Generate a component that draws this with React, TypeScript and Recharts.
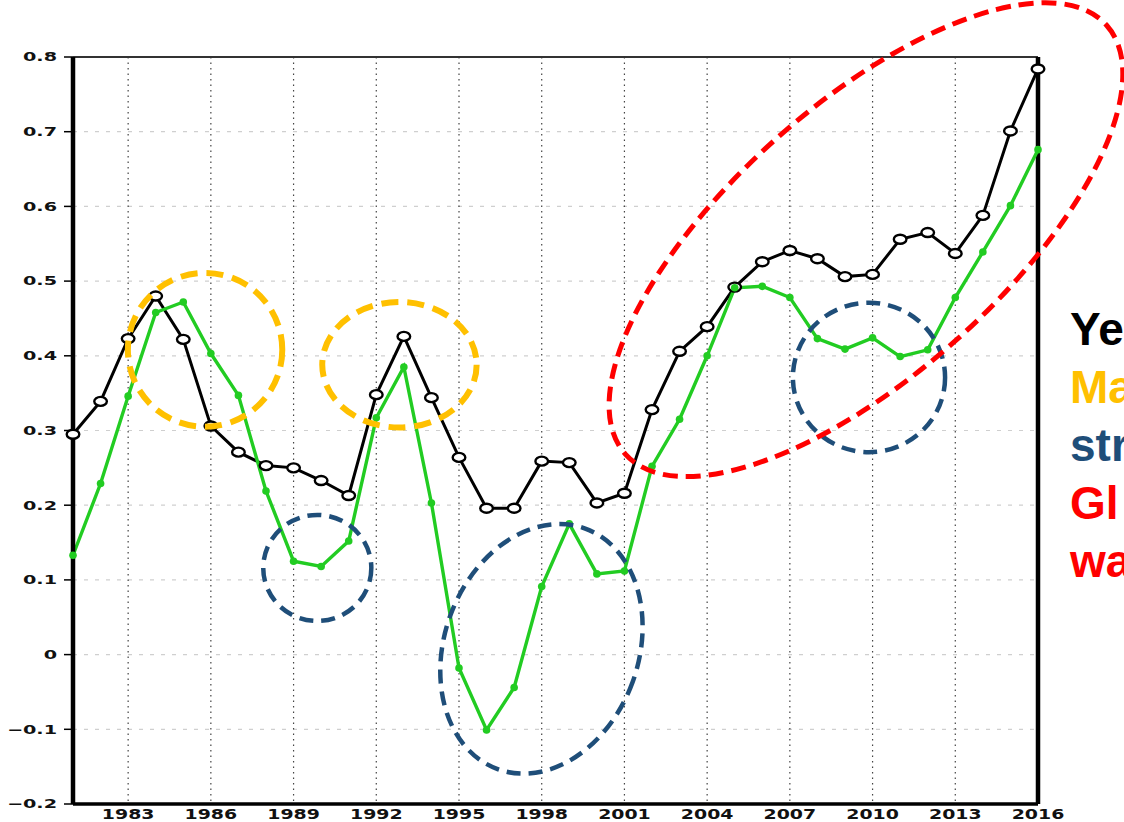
import React from "react";
import {
  LineChart,
  Line,
  XAxis,
  YAxis,
  CartesianGrid,
  ReferenceLine,
  ReferenceArea,
} from "recharts";

// ---------- data ----------
const years = [
  1981, 1982, 1983, 1984, 1985, 1986, 1987, 1988, 1989, 1990, 1991, 1992,
  1993, 1994, 1995, 1996, 1997, 1998, 1999, 2000, 2001, 2002, 2003, 2004,
  2005, 2006, 2007, 2008, 2009, 2010, 2011, 2012, 2013, 2014, 2015, 2016,
];

const blackSeries = [
  0.295, 0.339, 0.423, 0.48, 0.422, 0.306, 0.271, 0.253, 0.25, 0.233, 0.213,
  0.348, 0.426, 0.344, 0.264, 0.196, 0.196, 0.259, 0.257, 0.203, 0.216, 0.328,
  0.406, 0.439, 0.492, 0.526, 0.541, 0.53, 0.506, 0.509, 0.556, 0.565, 0.537,
  0.588, 0.701, 0.784,
];

const greenSeries = [
  0.133, 0.229, 0.346, 0.458, 0.472, 0.403, 0.347, 0.219, 0.125, 0.118, 0.152,
  0.317, 0.385, 0.203, -0.018, -0.101, -0.044, 0.091, 0.175, 0.108, 0.112,
  0.252, 0.315, 0.4, 0.491, 0.493, 0.478, 0.423, 0.409, 0.424, 0.399, 0.408,
  0.478, 0.539, 0.601, 0.676,
];

const xTicks = [1983, 1986, 1989, 1992, 1995, 1998, 2001, 2004, 2007, 2010, 2013, 2016];
const yTicks = [-0.2, -0.1, 0, 0.1, 0.2, 0.3, 0.4, 0.5, 0.6, 0.7, 0.8];

// highlight ellipses: centre (year, value), half-extents (years, value), rotation (deg)
const highlightCentersX = [1985.79, 1992.84, 1989.86, 1997.99, 2009.87, 2009.76];
const highlightCentersY = [0.408, 0.388, 0.116, 0.0077, 0.371, 0.5555];
const highlightHalfX = [2.8, 2.8, 1.96, 3.52, 2.76, 11.69];
const highlightHalfY = [0.103, 0.084, 0.071, 0.1714, 0.1, 0.1808];
const highlightRotation = [0, 0, 0, 20, 0, -41.7];
const highlightKind = ["elnino", "elnino", "lanina", "lanina", "lanina", "warming"];

const legendLines = ["Ye", "Ma", "str", "Gl", "wa"];

// ---------- styles ----------
const kindStyle: Record<string, { stroke: string; width: number; dash: string }> = {
  elnino: { stroke: "#FFC000", width: 6, dash: "17 9" },
  lanina: { stroke: "#1F4E79", width: 4.5, dash: "14 8" },
  warming: { stroke: "#FF0000", width: 5, dash: "15 8" },
};
const legendColors = ["#000000", "#FFC000", "#1F4E79", "#FF0000", "#FF0000"];

const data = years.map((y, i) => ({ year: y, black: blackSeries[i], green: greenSeries[i] }));

const fmtY = (v: number) => {
  if (Math.abs(v) < 1e-9) return "0";
  const s = v.toFixed(1);
  return s.startsWith("-") ? "\u2212" + s.slice(1) : s;
};

const XTick = (props: any) => {
  const { x, y, payload } = props;
  return (
    <text
      transform={`translate(${x},${y}) scale(1.35,1)`}
      textAnchor="middle"
      dy="0.71em"
      fontSize={14}
      fontWeight="bold"
      fontFamily="DejaVu Sans"
      fill="#111"
    >
      {payload.value}
    </text>
  );
};

const YTick = (props: any) => {
  const { x, y, payload } = props;
  return (
    <text
      transform={`translate(${x},${y}) scale(1.6,1)`}
      textAnchor="end"
      dy="0.36em"
      fontSize={12}
      fontWeight="bold"
      fontFamily="DejaVu Sans"
      fill="#111"
    >
      {fmtY(payload.value)}
    </text>
  );
};

const BlackDot = (props: any) => {
  const { cx, cy, index } = props;
  if (cx == null || cy == null) return <g key={`b${index}`} />;
  return (
    <ellipse
      key={`b${index}`}
      cx={cx}
      cy={cy}
      rx={6.3}
      ry={4.5}
      fill="#fff"
      stroke="#000"
      strokeWidth={2.4}
    />
  );
};

const GreenDot = (props: any) => {
  const { cx, cy, index } = props;
  if (cx == null || cy == null) return <g key={`g${index}`} />;
  return <circle key={`g${index}`} cx={cx} cy={cy} r={3.8} fill="#22CC22" />;
};

const makeEllipseShape = (rot: number, kind: string) => (props: any) => {
  const { x, y, width, height } = props;
  const cx = x + width / 2;
  const cy = y + height / 2;
  const st = kindStyle[kind];
  return (
    <ellipse
      cx={cx}
      cy={cy}
      rx={Math.abs(width) / 2}
      ry={Math.abs(height) / 2}
      transform={`rotate(${rot} ${cx} ${cy})`}
      fill="none"
      stroke={st.stroke}
      strokeWidth={st.width}
      strokeDasharray={st.dash}
    />
  );
};

export default function App() {
  return (
    <div
      style={{
        position: "absolute",
        left: 0,
        top: 0,
        width: 1124,
        height: 822,
        overflow: "hidden",
        background: "#fff",
      }}
    >
      <LineChart
        width={1124}
        height={822}
        data={data}
        margin={{ top: 57, right: 86, bottom: 0, left: 0 }}
      >
        <CartesianGrid
          horizontal={true}
          vertical={false}
          stroke="#cfcfcf"
          strokeDasharray="4 7"
          strokeWidth={1.2}
        />
        <CartesianGrid
          horizontal={false}
          vertical={true}
          stroke="#444"
          strokeDasharray="1.5 4"
          strokeWidth={1.2}
        />
        <XAxis
          dataKey="year"
          type="number"
          domain={[1981, 2016]}
          ticks={xTicks}
          height={18}
          tickLine={false}
          tickSize={3}
          tickMargin={2}
          axisLine={{ stroke: "#000", strokeWidth: 3.5 }}
          tick={<XTick />}
          interval={0}
        />
        <YAxis
          type="number"
          domain={[-0.2, 0.8]}
          ticks={yTicks}
          width={73}
          tickSize={9}
          tickMargin={7}
          tickLine={{ stroke: "#000", strokeWidth: 1.5 }}
          axisLine={{ stroke: "#000", strokeWidth: 4.5 }}
          tick={<YTick />}
          interval={0}
        />
        <ReferenceLine y={0.8} stroke="#333" strokeWidth={2.2} />
        <ReferenceLine x={2016} stroke="#000" strokeWidth={4.5} />
        <Line
          dataKey="black"
          stroke="#000"
          strokeWidth={3}
          dot={BlackDot}
          activeDot={false}
          isAnimationActive={false}
        />
        <Line
          dataKey="green"
          stroke="#22CC22"
          strokeWidth={3.4}
          dot={GreenDot}
          activeDot={false}
          isAnimationActive={false}
        />
        {highlightCentersX.map((cxv, i) => (
          <ReferenceArea
            key={`h${i}`}
            x1={cxv - highlightHalfX[i]}
            x2={cxv + highlightHalfX[i]}
            y1={highlightCentersY[i] - highlightHalfY[i]}
            y2={highlightCentersY[i] + highlightHalfY[i]}
            ifOverflow="visible"
            shape={makeEllipseShape(highlightRotation[i], highlightKind[i])}
            zIndex={1000}
          />
        ))}
      </LineChart>
      {legendLines.map((t, i) => (
        <div
          key={t}
          style={{
            position: "absolute",
            left: 1070,
            top: 300 + i * 58,
            fontFamily: "'Liberation Sans', Arial, sans-serif",
            fontWeight: "bold",
            fontSize: 46,
            lineHeight: "58px",
            color: legendColors[i],
            whiteSpace: "nowrap",
          }}
        >
          {t}
        </div>
      ))}
    </div>
  );
}
